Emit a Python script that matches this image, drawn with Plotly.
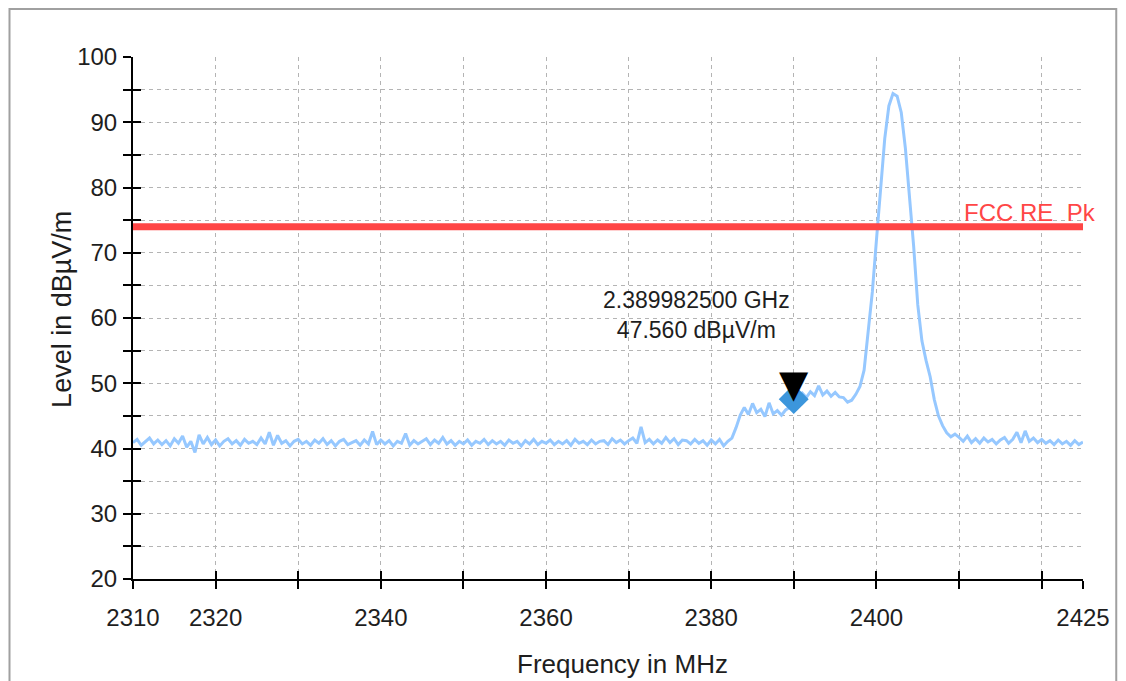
import plotly.graph_objects as go

# sweep: 2310 .. 2425 MHz, 0.5 MHz per point
f_start = 2310.0
f_step = 0.5

level = [
    # 2310 - 2334.5
    40.9, 41.4, 40.5, 41.0, 41.6, 40.7, 41.3, 40.6, 41.2, 40.4,
    41.5, 40.8, 41.9, 40.2, 41.1, 39.4, 42.1, 40.7, 41.7, 40.6,
    41.3, 40.4, 41.1, 41.5, 40.7, 41.2, 40.5, 41.4, 40.8, 41.1,
    40.6, 41.6, 40.7, 42.5, 40.5, 42.0, 40.8, 41.2, 40.4, 41.1,
    41.4, 40.7, 41.1, 40.5, 41.3, 40.8, 41.5, 40.6, 41.2, 40.4,
    # 2335 - 2359.5
    41.1, 41.4, 40.6, 40.9, 41.2, 40.5, 41.3, 40.7, 42.6, 40.6,
    41.3, 40.7, 41.2, 40.4, 41.1, 40.8, 42.3, 40.5, 41.2, 40.7,
    41.1, 41.5, 40.6, 41.3, 40.8, 41.7, 40.7, 41.2, 40.5, 41.1,
    40.7, 41.3, 40.5, 41.1, 40.8, 41.4, 40.6, 41.2, 40.7, 41.1,
    40.5, 41.3, 40.8, 41.1, 40.4, 41.2, 40.7, 41.4, 40.6, 41.1,
    # 2360 - 2382.5
    40.8, 41.3, 40.6, 41.1, 40.7, 41.2, 40.5, 41.4, 40.8, 41.1,
    40.6, 41.3, 40.7, 41.1, 41.2, 40.6, 41.5, 40.9, 41.3, 40.7,
    41.2, 41.6, 40.8, 43.3, 40.9, 41.4, 40.7, 41.3, 40.8, 41.7,
    40.9, 41.5, 40.6, 41.3, 41.2, 40.7, 41.4, 40.8, 41.2, 40.5,
    41.3, 40.7, 41.4, 40.4, 41.1, 41.6,
    # 2383 - 2390
    43.2, 45.1, 46.3, 45.2, 46.9, 45.5, 46.0, 44.9, 47.0, 45.3,
    45.8, 45.1, 45.9, 46.3, 47.6,
    # 2390.5 - 2397
    48.0, 48.5, 47.8, 48.7, 48.1, 49.6, 48.2, 48.8, 48.0, 48.6,
    47.9, 47.8, 47.1, 47.4,
    # 2397.5 - 2409.5
    48.3, 49.5, 52.0, 57.5, 64.0, 72.0, 79.5, 87.5, 92.5, 94.4,
    94.0, 91.5, 86.0, 78.5, 71.0, 62.0, 56.5, 53.5, 51.0, 47.5,
    45.0, 43.5, 42.4, 41.8, 42.2,
    # 2410 - 2425
    41.7, 41.1, 41.9, 40.9, 41.5, 40.8, 41.6, 41.0, 41.4, 40.7,
    41.3, 41.7, 40.8, 41.4, 42.5, 40.9, 42.7, 41.1, 41.6, 40.9,
    41.4, 40.8, 41.2, 40.6, 41.3, 40.7, 41.1, 40.5, 41.2, 40.6,
    41.0,
]
freq = [f_start + f_step * i for i in range(len(level))]

limit_name = "FCC RE_Pk"
limit_level = 74.0

marker_freq = 2389.9825
marker_level = 47.560

x_ticks = [2310, 2320, 2330, 2340, 2350, 2360, 2370, 2380, 2390, 2400, 2410, 2420, 2425]
x_labels = ["2310", "2320", "", "2340", "", "2360", "", "2380", "", "2400", "", "", "2425"]
y_ticks = [20, 25, 30, 35, 40, 45, 50, 55, 60, 65, 70, 75, 80, 85, 90, 95, 100]
y_labels = [str(v) if v % 10 == 0 else "" for v in y_ticks]

FONT = "Liberation Sans, Arial, sans-serif"
TXT = "#1e1e1e"

fig = go.Figure()

fig.add_trace(
    go.Scatter(
        x=freq,
        y=level,
        mode="lines",
        line=dict(color="rgb(150,200,255)", width=3),
        showlegend=False,
        hoverinfo="skip",
    )
)

fig.add_trace(
    go.Scatter(
        x=[x_ticks[0], x_ticks[-1]],
        y=[limit_level, limit_level],
        mode="lines",
        line=dict(color="rgb(255,70,70)", width=7),
        showlegend=False,
    )
)

fig.add_trace(
    go.Scatter(
        x=[marker_freq],
        y=[marker_level],
        mode="markers",
        marker=dict(symbol="diamond", size=23, color="rgb(60,150,220)"),
        showlegend=False,
    )
)

# invisible trace so the overlay axes (inner tick halves) get drawn
fig.add_trace(
    go.Scatter(x=[x_ticks[0]], y=[y_ticks[0]], mode="markers", marker=dict(opacity=0),
               xaxis="x2", yaxis="y2", showlegend=False, hoverinfo="skip")
)

fig.add_annotation(
    x=marker_freq, y=marker_level, text="▼", showarrow=False,
    yshift=15, font=dict(size=38, color="black", family="DejaVu Sans"),
)
fig.add_annotation(
    x=marker_freq, y=marker_level, xref="x", yref="y",
    text=f"{marker_freq / 1000:.9f} GHz<br>{marker_level:.3f} dBµV/m",
    showarrow=False, xshift=-97, yshift=84,
    font=dict(size=23, color=TXT, family=FONT), align="center",
)
fig.add_annotation(
    x=1.016, y=limit_level, xref="paper", yref="y", xanchor="right", yanchor="bottom",
    text=limit_name, showarrow=False, yshift=-1,
    font=dict(size=24, color="rgb(255,70,70)", family=FONT),
)
# axis titles placed by hand
fig.add_annotation(
    x=-0.075, y=0.517, xref="paper", yref="paper", xanchor="center", yanchor="middle",
    textangle=-90, text="Level in dBµV/m", showarrow=False,
    font=dict(size=27, color=TXT, family=FONT),
)
fig.add_annotation(
    x=0.515, y=-0.163, xref="paper", yref="paper", xanchor="center", yanchor="middle",
    text="Frequency in MHz", showarrow=False,
    font=dict(size=26, color=TXT, family=FONT),
)

# outer frame of the window
fig.add_shape(
    type="rect", xref="paper", yref="paper",
    x0=-0.130, x1=1.035, y0=-0.25, y1=1.092,
    line=dict(color="#a0a0a0", width=2), layer="below",
)

fig.update_layout(
    width=1118,
    height=673,
    autosize=False,
    margin=dict(l=125, r=43, t=49, b=102, autoexpand=False),
    paper_bgcolor="white",
    plot_bgcolor="white",
    font=dict(family=FONT, color=TXT, size=24),
    xaxis=dict(
        range=[x_ticks[0], x_ticks[-1]],
        tickmode="array", tickvals=x_ticks, ticktext=x_labels,
        ticks="outside", ticklen=8, tickwidth=2, tickcolor="black",
        ticklabelstandoff=8,
        showline=True, linecolor="black", linewidth=2,
        showgrid=True, gridcolor="#b4b4b4", griddash="4px,4px", gridwidth=1,
        zeroline=False, automargin=False,
        tickfont=dict(size=24),
    ),
    yaxis=dict(
        range=[y_ticks[0], y_ticks[-1]],
        tickmode="array", tickvals=y_ticks, ticktext=y_labels,
        ticks="outside", ticklen=8, tickwidth=2, tickcolor="black",
        ticklabelstandoff=1,
        showline=True, linecolor="black", linewidth=2,
        showgrid=True, gridcolor="#b4b4b4", griddash="4px,4px", gridwidth=1,
        zeroline=False, automargin=False,
        tickfont=dict(size=24),
    ),
    xaxis2=dict(
        overlaying="x", anchor="y", side="bottom",
        range=[x_ticks[0], x_ticks[-1]],
        tickmode="array", tickvals=x_ticks,
        ticks="inside", ticklen=8, tickwidth=2, tickcolor="black",
        showticklabels=False, showgrid=False, showline=False, zeroline=False,
    ),
    yaxis2=dict(
        overlaying="y", anchor="x", side="left",
        range=[y_ticks[0], y_ticks[-1]],
        tickmode="array", tickvals=y_ticks,
        ticks="inside", ticklen=8, tickwidth=2, tickcolor="black",
        showticklabels=False, showgrid=False, showline=False, zeroline=False,
    ),
)

fig.write_html("out.html")
